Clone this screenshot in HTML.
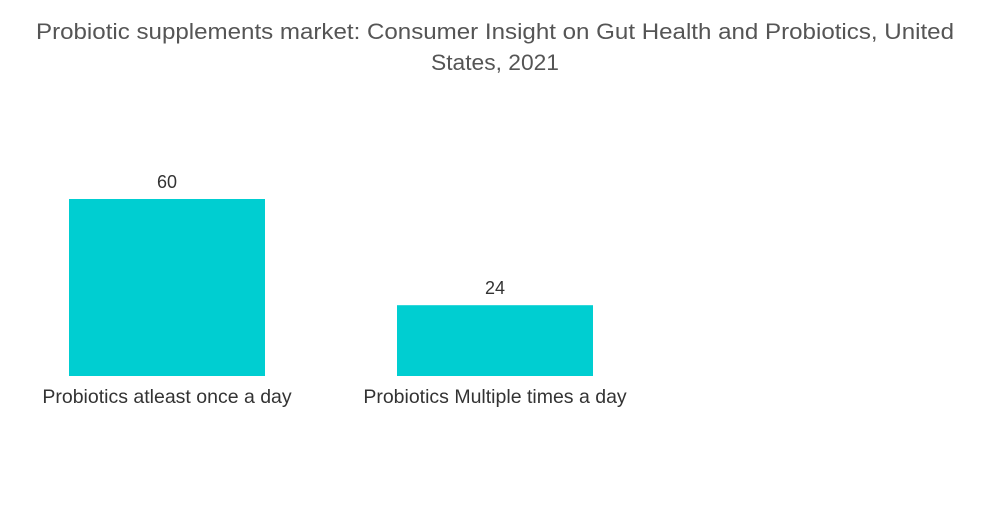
<!DOCTYPE html>
<html><head><meta charset="utf-8"><style>
body{margin:0;background:#fff;width:1000px;height:504px;overflow:hidden;font-family:"Liberation Sans",sans-serif;}
</style></head><body>
<svg width="1000" height="504">
<text x="495" y="39" text-anchor="middle" font-size="22" fill="#555" textLength="918" lengthAdjust="spacingAndGlyphs">Probiotic supplements market: Consumer Insight on Gut Health and Probiotics, United</text>
<text x="495" y="70" text-anchor="middle" font-size="22" fill="#555" textLength="128" lengthAdjust="spacingAndGlyphs">States, 2021</text>
<g id="bars"></g>
</svg>
<script>
const categories=["Probiotics atleast once a day","Probiotics Multiple times a day"];
const values=[60,24];
const labels=["60","24"];
const baseY=376, pxPer=177/60, x0=69, band=328, bw=196;
const g=document.getElementById('bars');
const ns="http://www.w3.org/2000/svg";
function y(v){return baseY-v*pxPer;}
categories.forEach((c,i)=>{
  const x=x0+i*band;
  const r=document.createElementNS(ns,'rect');
  r.setAttribute('x',x);r.setAttribute('y',y(values[i]));
  r.setAttribute('width',bw);r.setAttribute('height',baseY-y(values[i]));
  r.setAttribute('fill','#00ced1');
  
  
  g.appendChild(r);
  const t=document.createElementNS(ns,'text');
  t.setAttribute('x',x+bw/2);t.setAttribute('y',y(values[i])-11);
  t.setAttribute('text-anchor','middle');t.setAttribute('font-size','18');t.setAttribute('fill','#333');
  t.textContent=labels[i];
  
  
  g.appendChild(t);
  const c2=document.createElementNS(ns,'text');
  c2.setAttribute('x',x+bw/2);c2.setAttribute('y',403);
  c2.setAttribute('text-anchor','middle');c2.setAttribute('font-size','19.5');c2.setAttribute('fill','#333');
  c2.textContent=c;
  
  
  g.appendChild(c2);
});
</script>
</body></html>
